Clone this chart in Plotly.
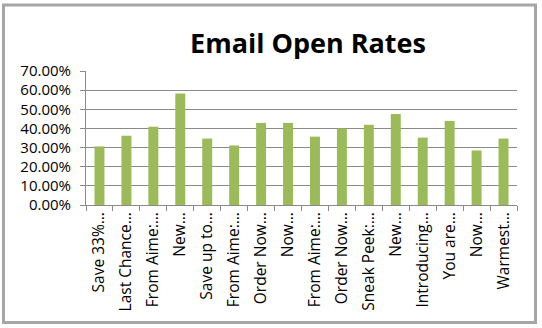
import plotly.graph_objects as go

subjects = ["Save 33%…", "Last Chance…", "From Aime:…", "New…", "Save up to…",
            "From Aime:…", "Order Now…", "Now…", "From Aime:…", "Order Now…",
            "Sneak Peek:…", "New…", "Introducing…", "You are…", "Now…", "Warmest…"]
open_rates = [0.306, 0.362, 0.409, 0.583, 0.347, 0.311, 0.429, 0.429,
              0.357, 0.400, 0.419, 0.475, 0.352, 0.439, 0.285, 0.347]
y_ticks = [0, 0.1, 0.2, 0.3, 0.4, 0.5, 0.6, 0.7]

positions = list(range(len(subjects)))

FONT = "'Open Sans', Calibri, sans-serif"
GRID = "#8a8a8a"

fig = go.Figure(go.Bar(
    x=positions, y=open_rates,
    marker=dict(color="#9BBB59", line=dict(width=0)),
    width=0.37,
))

fig.update_layout(
    width=542, height=328,
    margin=dict(l=86, r=25, t=71, b=123),
    paper_bgcolor="white", plot_bgcolor="white",
    showlegend=False,
    font=dict(family=FONT, size=15, color="black"),
    title=dict(text="<b>Email Open Rates</b>", x=308 / 542, xanchor="center",
               y=1 - 44 / 328, yanchor="middle",
               font=dict(family=FONT, size=27, color="black")),
    xaxis=dict(
        range=[-0.5, len(subjects) - 0.5],
        tickvals=positions, ticktext=subjects, tickangle=-90,
        ticks="", showgrid=False, zeroline=False,
        showline=True, linecolor=GRID, linewidth=1,
        tickfont=dict(family=FONT, size=15.5, color="black"),
        minor=dict(tickvals=[p - 0.5 for p in positions] + [len(subjects) - 0.5],
                   ticks="outside", ticklen=5, tickcolor=GRID, showgrid=False),
    ),
    yaxis=dict(
        range=[0, 0.7], tickvals=y_ticks, tickformat=".2%",
        showgrid=True, gridcolor=GRID, gridwidth=1, zeroline=False,
        showline=True, linecolor=GRID, linewidth=1,
        ticks="outside", ticklen=5, tickcolor=GRID,
        ticklabelstandoff=6,
        tickfont=dict(family=FONT, size=15, color="black"),
    ),
    shapes=[dict(type="rect", xref="paper", yref="paper",
                 x0=-86 / 431 + 3.5 / 431, x1=1 + 18.5 / 431,
                 y0=-123 / 134 + 5.5 / 134, y1=1 + 66 / 134,
                 line=dict(color="#a6a6a6", width=3), fillcolor="rgba(0,0,0,0)",
                 layer="below")],
)

fig.write_html("out.html")
